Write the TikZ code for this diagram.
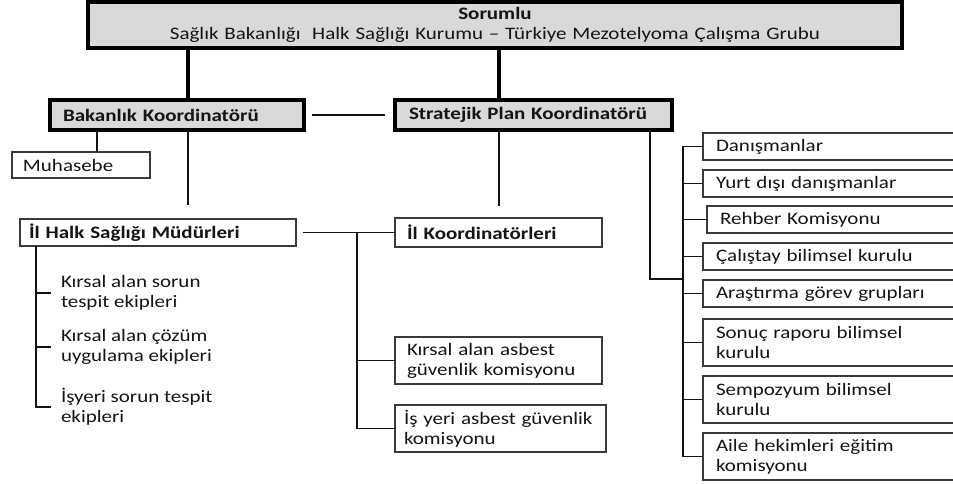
\documentclass[tikz,border=0pt]{standalone}
\usepackage{fontspec}
\setmainfont{Carlito}[FakeStretch=1.2]
\definecolor{boxgray}{HTML}{D9D9D9}
\definecolor{rim}{HTML}{3A3A3A}
\definecolor{ink}{HTML}{141414}
\newcommand{\orgfont}{\fontsize{17.5}{20}\selectfont}

\begin{document}
\begin{tikzpicture}[x=1pt,y=-1pt,line join=miter,
  lead/.style={draw=black,line width=3.5,fill=boxgray,anchor=north west,outer sep=0,
    inner xsep=12,inner ysep=0,font=\orgfont\bfseries,align=left,text=ink},
  unit/.style={draw=rim,line width=1.4,anchor=north west,outer sep=0,
    inner xsep=12,inner ysep=0,font=\orgfont,align=left,text=ink},
  strong/.style={font=\orgfont\bfseries},
  plain/.style={anchor=west,outer sep=0,inner xsep=10,inner ysep=0,
    font=\orgfont,align=left,text=ink},
  trunk/.style={draw=black,line width=4},
  link/.style={draw=ink,line width=1.3}]
  \useasboundingbox (0,0) rectangle (953,484);
  \clip (0,0) rectangle (953,484);

  % Responsible body on top.
  \node[lead,font=\orgfont,align=center,text width=790,minimum height=46] (top) at (88,2)
    {\textbf{Sorumlu}\\Sağlık Bakanlığı~ Halk Sağlığı Kurumu – Türkiye Mezotelyoma Çalışma Grubu};

  % Two coordinators.
  \node[lead,inner xsep=13,text width=228,minimum height=30] (bak) at (50,100) {Bakanlık Koordinatörü};
  \node[lead,inner xsep=14,text width=249,minimum height=30] (strat) at (395,100) {Stratejik Plan Koordinatörü};

  \coordinate (bakup) at ([xshift=138]bak.north west);
  \coordinate (stratup) at ([xshift=104]strat.north west);
  \draw[trunk] (bakup) -- (bakup |- top.south);
  \draw[trunk] (stratup) -- (stratup |- top.south);
  \draw[link] ([xshift=8]bak.east) -- ([xshift=-10]strat.west);

  % Ministry side.
  \node[unit,inner xsep=11,text width=116,minimum height=26] (muh) at (12,152) {Muhasebe};
  \draw[link] ([xshift=47]bak.south west) -- ([xshift=85]muh.north west);
  \draw[link] ([xshift=138]bak.south west) -- ++(0,75);

  \node[unit,strong,inner xsep=9,text width=258,minimum height=27] (hlk) at (20,219) {İl Halk Sağlığı Müdürleri};
  \node[plain] (ek1) at (51,293) {Kırsal alan sorun\\tespit ekipleri};
  \node[plain] (ek2) at (51,347) {Kırsal alan çözüm\\uygulama ekipleri};
  \node[plain] (ek3) at (51,407) {İşyeri sorun tespit\\ekipleri};
  \coordinate (lbr) at ([xshift=16]hlk.south west);
  \foreach \nm in {ek1,ek2,ek3}{
    \draw[link] (lbr) |- (\nm.west);
  }

  % Provincial side.
  \node[unit,strong,text width=183,minimum height=29] (ilk) at (395,218) {İl Koordinatörleri};
  \node[unit,text width=183,minimum height=47] (kas) at (395,337) {Kırsal alan asbest\\güvenlik komisyonu};
  \node[unit,inner xsep=9,text width=193,minimum height=47] (isy) at (395,405) {İş yeri asbest güvenlik\\komisyonu};
  \draw[link] ([xshift=104]strat.south west) -- ++(0,76);
  \draw[link] ([xshift=7]hlk.east) -- (ilk.west);
  \coordinate (mbr) at ([xshift=-38]ilk.west);
  \draw[link] (mbr) |- (kas.west);
  \draw[link] (mbr) |- (isy.west);

  % Boards under the strategic plan (cut at the right edge).
  \foreach \nm/\xx/\yy/\hh/\txt in {
      dan/703/133/27/{Danışmanlar},
      yur/703/170/27/{Yurt dışı danışmanlar},
      reh/707/206/27/{Rehber Komisyonu},
      cal/703/243/27/{Çalıştay bilimsel kurulu},
      ara/703/280/27/{Araştırma görev grupları},
      son/703/319/47/{Sonuç raporu bilimsel\\kurulu},
      sem/703/376/47/{Sempozyum bilimsel\\kurulu},
      aile/703/433/47/{Aile hekimleri eğitim\\komisyonu}}{
    \node[unit,inner xsep=13,text width=250,minimum height=\hh] (\nm) at (\xx,\yy) {\txt};
  }
  \coordinate (rbr) at (683,279);
  \draw[link] ([xshift=255]strat.south west) |- (rbr);
  \foreach \nm in {dan,yur,reh,cal,ara,son,sem,aile}{
    \draw[link] (rbr) |- (\nm.west);
  }
\end{tikzpicture}
\end{document}
